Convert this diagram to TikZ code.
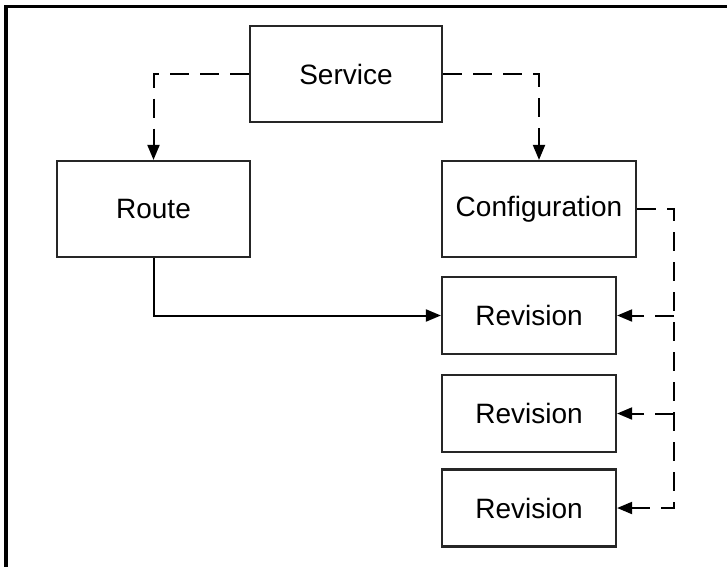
\documentclass[tikz,border=0pt]{standalone}
\usepackage{fontspec}
\setmainfont{Liberation Sans}
\usetikzlibrary{arrows.meta}

\tikzset{
  box/.style={draw=black!85, line width=2.2pt, fill=white, inner sep=0pt,
              font=\fontsize{28}{33}\selectfont, text=black},
  link/.style={draw=black, line width=2pt,
               -{Triangle[length=15pt,width=12pt]}},
  dashlink/.style={link, dash pattern=on 19pt off 11pt},
  frameline/.style={draw=black, line width=3.4pt}
}

\begin{document}
\begin{tikzpicture}[x=1pt, y=-1pt]
  \useasboundingbox (0,0) rectangle (727,567);

  % frame edges
  \coordinate (ftl) at (6,6.5);
  \coordinate (ftr) at (727,6.5);
  \coordinate (fbl) at (6,567);
  \draw[frameline] (ftr) -- (ftl) -- (fbl);

  % boxes
  \node[box, minimum width=192pt, minimum height=96pt] (service) at (346,74) {Service};
  \node[box, minimum width=193pt, minimum height=96pt] (route) at (153.5,209) {Route};
  \node[box, minimum width=194pt, minimum height=96pt] (config) at (539,209) {Configuration};
  \node[box, minimum width=174pt, minimum height=77pt] (rev1) at (529,315.5) {Revision};
  \node[box, minimum width=174pt, minimum height=77pt] (rev2) at (529,413.5) {Revision};
  \node[box, minimum width=174pt, minimum height=77pt] (rev3) at (529,508) {Revision};

  % service owns route and configuration
  \draw[dashlink] (service.west) -| (route.north);
  \draw[dashlink] (service.east) -| (config.north);

  % route sends traffic to a revision
  \draw[link] (route.south) |- (rev1.west);

  % configuration stamps out revisions
  \coordinate (rail) at (674,0);
  \draw[dashlink] (config.east) -| (rail |- rev3.east) -- (rev3.east);
  \draw[dashlink] (rail |- rev1.east) -- (rev1.east);
  \draw[dashlink] (rail |- rev2.east) -- (rev2.east);
\end{tikzpicture}
\end{document}
